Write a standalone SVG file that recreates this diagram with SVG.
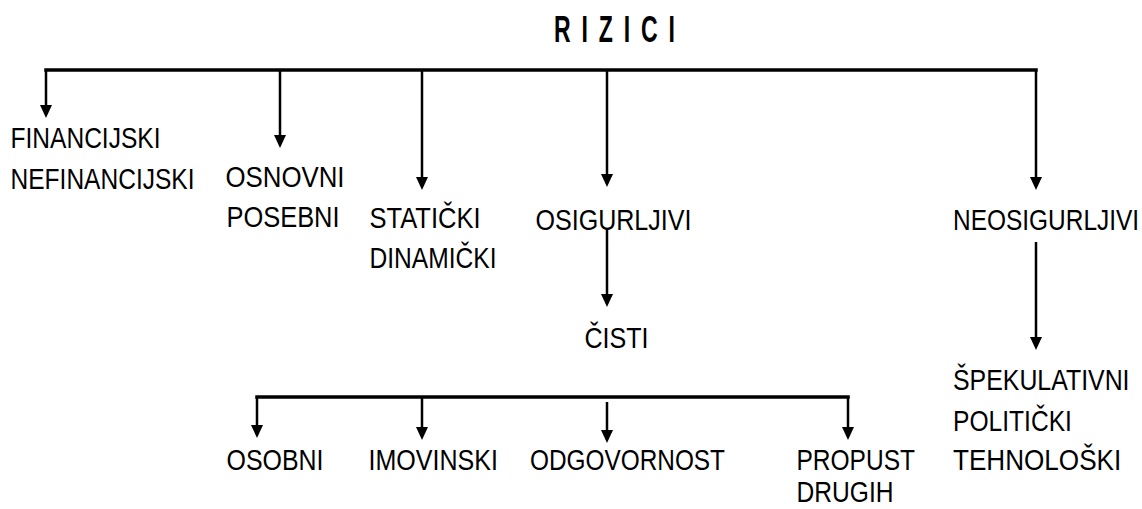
<svg xmlns="http://www.w3.org/2000/svg" width="1142" height="509" viewBox="0 0 1142 509">
<style>
text{font-family:"Liberation Sans",Arial,sans-serif;font-size:30px;fill:#000}
.t{font-weight:bold;font-size:36px}
.bus{stroke:#000;stroke-width:3.5;fill:none;stroke-linecap:square}
.arr{stroke:#000;stroke-width:2.5;fill:none}
</style>
<defs>
<marker id="ah" viewBox="0 0 13 12" refX="7" refY="6" markerWidth="13" markerHeight="12" markerUnits="userSpaceOnUse" orient="auto">
<path d="M0,0 L13,6 L0,12 z" fill="#000"/>
</marker>
</defs>
<g id="connectors">
<line class="bus" x1="46" y1="70" x2="1036" y2="70"/>
<line class="arr" x1="46" y1="70" x2="46" y2="112" marker-end="url(#ah)"/>
<line class="arr" x1="280" y1="70" x2="280" y2="142" marker-end="url(#ah)"/>
<line class="arr" x1="422" y1="70" x2="422" y2="184" marker-end="url(#ah)"/>
<line class="arr" x1="607" y1="70" x2="607" y2="181" marker-end="url(#ah)"/>
<line class="arr" x1="1036" y1="70" x2="1036" y2="184" marker-end="url(#ah)"/>
<line class="arr" x1="607" y1="230" x2="607" y2="301" marker-end="url(#ah)"/>
<line class="arr" x1="1036" y1="242" x2="1036" y2="344" marker-end="url(#ah)"/>
<line class="bus" x1="257" y1="397" x2="848" y2="397"/>
<line class="arr" x1="257" y1="397" x2="257" y2="432" marker-end="url(#ah)"/>
<line class="arr" x1="422" y1="397" x2="422" y2="434" marker-end="url(#ah)"/>
<line class="arr" x1="607" y1="402" x2="607" y2="437" marker-end="url(#ah)"/>
<line class="arr" x1="848" y1="397" x2="848" y2="434" marker-end="url(#ah)"/>
</g>
<g id="root"><text class="t" transform="translate(554,41.7) scale(0.64,1)" x="0" y="0" letter-spacing="17">RIZICI</text></g>
<g id="n-financijski">
<text x="10.5" y="148.3" textLength="150" lengthAdjust="spacingAndGlyphs">FINANCIJSKI</text>
<text x="10.5" y="189" textLength="184" lengthAdjust="spacingAndGlyphs">NEFINANCIJSKI</text>
</g>
<g id="n-osnovni">
<text x="225.5" y="186.5" textLength="119" lengthAdjust="spacingAndGlyphs">OSNOVNI</text>
<text x="226.5" y="227" textLength="113" lengthAdjust="spacingAndGlyphs">POSEBNI</text>
</g>
<g id="n-staticki">
<text x="369.5" y="227.5" textLength="111" lengthAdjust="spacingAndGlyphs">STATIČKI</text>
<text x="369.5" y="268" textLength="127" lengthAdjust="spacingAndGlyphs">DINAMIČKI</text>
</g>
<g id="n-osigurljivi">
<text x="535.5" y="229.5" textLength="156" lengthAdjust="spacingAndGlyphs">OSIGURLJIVI</text>
</g>
<g id="n-cisti">
<text x="584.5" y="348.3" textLength="64" lengthAdjust="spacingAndGlyphs">ČISTI</text>
</g>
<g id="n-neosigurljivi">
<text transform="translate(953,229.5) scale(0.815,1)">NEOSIGURLJIVI</text>
</g>
<g id="n-spekulativni">
<text transform="translate(953,390) scale(0.83,1)">ŠPEKULATIVNI</text>
<text transform="translate(953,431) scale(0.82,1)">POLITIČKI</text>
<text transform="translate(953,470) scale(0.87,1)">TEHNOLOŠKI</text>
</g>
<g id="n-osobni"><text x="226.5" y="470" textLength="97" lengthAdjust="spacingAndGlyphs">OSOBNI</text></g>
<g id="n-imovinski"><text x="368.5" y="470" textLength="129.5" lengthAdjust="spacingAndGlyphs">IMOVINSKI</text></g>
<g id="n-odgovornost"><text x="530" y="470" textLength="195" lengthAdjust="spacingAndGlyphs">ODGOVORNOST</text></g>
<g id="n-propust">
<text x="796.5" y="470" textLength="118.5" lengthAdjust="spacingAndGlyphs">PROPUST</text>
<text x="796.5" y="502" textLength="97" lengthAdjust="spacingAndGlyphs">DRUGIH</text>
</g>
</svg>
